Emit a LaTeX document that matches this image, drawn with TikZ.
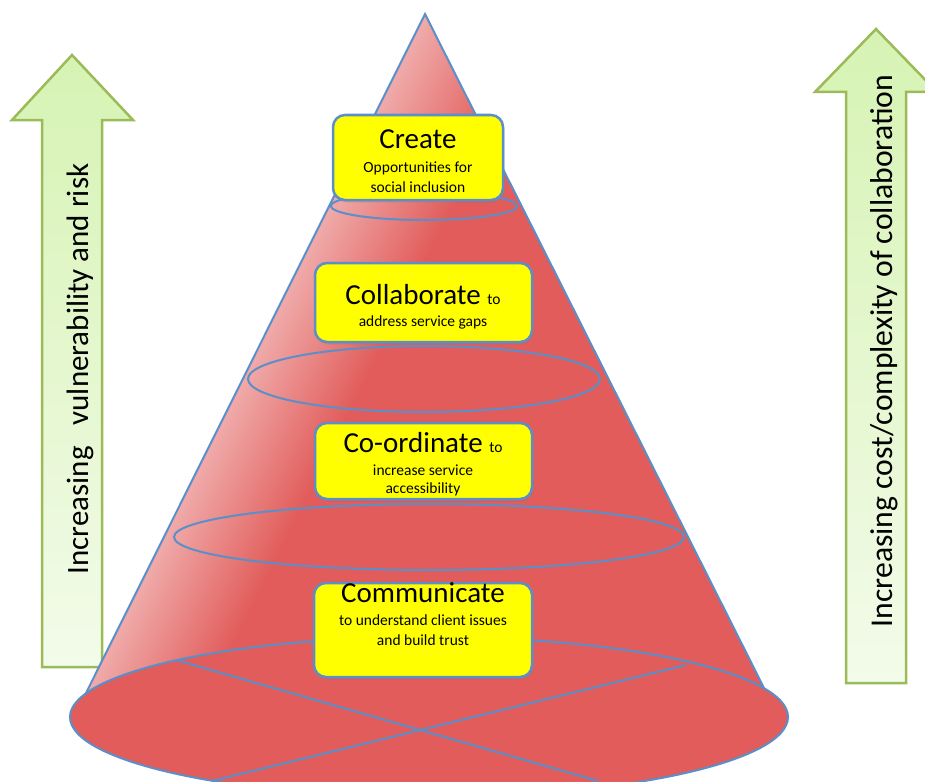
\documentclass[tikz,border=0pt]{standalone}
\usepackage{fontspec}
\setmainfont{Carlito}
\usetikzlibrary{shadows}
\definecolor{conered}{HTML}{E15C5A}
\definecolor{conepink}{HTML}{EFA9A8}
\definecolor{edgeblue}{HTML}{5B8FC9}
\definecolor{arrowgreen}{HTML}{9BBB59}
\definecolor{arrowtop}{HTML}{D6F3B3}
\definecolor{arrowbot}{HTML}{F3FBEA}
\definecolor{boxyellow}{HTML}{FFFF00}
\pgfdeclarehorizontalshading{coneshade}{100bp}{color(0bp)=(conepink); color(39bp)=(conepink); color(47bp)=(conered); color(100bp)=(conered)}
\newcommand{\titlefnt}{\fontsize{29}{34}\selectfont}
\newcommand{\subfnt}{\fontsize{15.5}{19}\selectfont}
\newcommand{\sidefnt}{\fontsize{31}{36}\selectfont}
\newcommand{\sidefntb}{\fontsize{31.7}{36}\selectfont}
\begin{document}
\begin{tikzpicture}[x=1pt,y=-1pt,
  boxstyle/.style={draw=edgeblue, line width=2.5pt, fill=boxyellow, rounded corners=12pt,
    drop shadow={shadow xshift=1.5pt, shadow yshift=-2.5pt, opacity=0.25}, inner sep=0pt},
  edgestyle/.style={draw=edgeblue, line width=2pt},
  arrowstyle/.style={draw=arrowgreen, line width=2.5pt, top color=arrowtop, bottom color=arrowbot, line join=miter},
  titletext/.style={anchor=base, font=\titlefnt, inner sep=0pt},
  subtext/.style={anchor=base, font=\subfnt, inner sep=0pt},
  sidetext/.style={anchor=base, rotate=90, inner sep=0pt}]
\useasboundingbox (0,0) rectangle (925,781);
\clip (0,0) rectangle (925,781);
% side arrows
\path[arrowstyle] (72,55) -- (133,120) -- (102,120) -- (102,667) -- (42,667) -- (42,120) -- (12,120) -- cycle;
\path[arrowstyle] (876,29) -- (937,92) -- (906,92) -- (906,683) -- (846,683) -- (846,92) -- (815,92) -- cycle;
\node[sidetext, font=\sidefnt] (lefttext) at (88,369) {Increasing\ \ \ vulnerability and risk};
\node[sidetext, font=\sidefntb] (righttext) at (892,351) {Increasing cost/complexity of collaboration};
% cone
\coordinate (apex) at (425,14);
\coordinate (bl) at (86,693);
\coordinate (br) at (764,688);
\shade[shading=coneshade, shading angle=-26.6] (apex) -- (bl) -- (br) -- cycle;
\draw[edgestyle] (bl) -- (apex) -- (br);
% base ellipse
\draw[edgestyle, fill=conered] (429,717) ellipse [x radius=359, y radius=80];
\coordinate (xa1) at (176,660);
\coordinate (xa2) at (598,781);
\coordinate (xb1) at (686,665);
\coordinate (xb2) at (212,781);
\draw[edgestyle] (xa1) -- (xa2);
\draw[edgestyle] (xb1) -- (xb2);
% rings
\draw[edgestyle] (424,206) ellipse [x radius=93, y radius=14];
\draw[edgestyle] (424,379) ellipse [x radius=176, y radius=33];
\draw[edgestyle] (429,537) ellipse [x radius=255, y radius=33];
% boxes
\node[boxstyle, minimum width=170pt, minimum height=85pt] (create) at (418,157.5) {};
\node[boxstyle, minimum width=217pt, minimum height=79pt] (collab) at (423.5,302.5) {};
\node[boxstyle, minimum width=217pt, minimum height=76pt] (coord) at (423.5,461) {};
\node[boxstyle, minimum width=218pt, minimum height=94pt] (comm) at (423,630) {};
% texts
\node[titletext] (t1) at (418,148) {Create};
\node[subtext] (s1a) at (418,172) {Opportunities for};
\node[subtext] (s1b) at (418,192) {social inclusion};
\node[titletext] (t2) at (423,304) {Collaborate {\subfnt to}};
\node[subtext] (s2a) at (423,326) {address service gaps};
\node[titletext] (t3) at (423,452) {Co-ordinate {\subfnt to}};
\node[subtext] (s3a) at (423,475) {increase service};
\node[subtext] (s3b) at (423,493) {accessibility};
\node[titletext] (t4) at (423,602) {Communicate};
\node[subtext] (s4a) at (423,625) {to understand client issues};
\node[subtext] (s4b) at (423,645) {and build trust};
\end{tikzpicture}
\end{document}
